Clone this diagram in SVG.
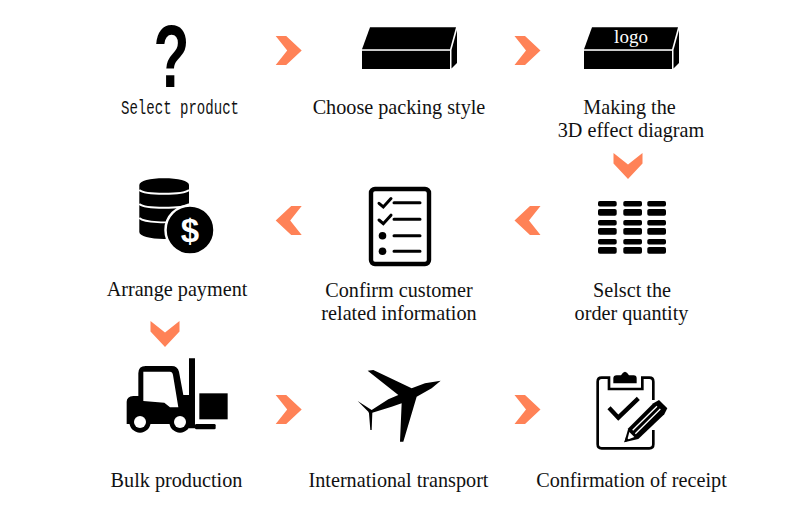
<svg xmlns="http://www.w3.org/2000/svg" width="790" height="508" viewBox="0 0 790 508">
<style>
.t{font-family:"Liberation Serif","Times New Roman",serif;font-size:20.2px;fill:#111;text-anchor:middle}
.k{fill:#000}
.chev{fill:#FF8257}
.ln{stroke:#000;stroke-width:3;stroke-linecap:round;fill:none}
.w{fill:#fff}
</style>
<defs>
<polygon id="chev" class="chev" points="-13,-14.5 -2.5,-14.5 13,0 -2.5,14.5 -13,14.5 -1.5,0"/>
<g id="box">
<polygon class="k" points="362,49.3 370,27.3 456,27.3 450,49.3"/>
<rect class="k" x="362" y="50.8" width="88" height="18.2"/>
<polygon class="k" points="451.5,68.5 457,63 457,30 451.5,50"/>
</g>
<g id="bars">
<rect class="k" x="0" y="0" width="18.7" height="5.6" rx="1.8"/>
<rect class="k" x="0" y="8" width="18.7" height="6.7" rx="1.8"/>
</g>
</defs>
<rect width="790" height="508" fill="#fff"/>
<g id="connectors">
<use href="#chev" transform="translate(288.7,50.5)"/>
<use href="#chev" transform="translate(527.5,50.5)"/>
<use href="#chev" transform="translate(628,166) rotate(90)"/>
<use href="#chev" transform="translate(527.5,220.5) rotate(180)"/>
<use href="#chev" transform="translate(288.7,220.5) rotate(180)"/>
<use href="#chev" transform="translate(165,334) rotate(90)"/>
<use href="#chev" transform="translate(288.7,409.5)"/>
<use href="#chev" transform="translate(527.5,409.5)"/>
</g>
<g id="node-select-product">
<text transform="translate(171.5,87) scale(0.66,1)" font-family="Liberation Sans,sans-serif" font-weight="700" font-size="89" text-anchor="middle" fill="#000">?</text>
<text x="121" y="114" font-family="Liberation Mono,monospace" font-size="20" textLength="118" lengthAdjust="spacingAndGlyphs" fill="#111">Select product</text>
</g>
<g id="node-packing-style">
<use href="#box"/>
<text class="t" x="399" y="114">Choose packing style</text>
</g>
<g id="node-3d-effect">
<use href="#box" transform="translate(222,0)"/>
<text x="631" y="43" font-family="Liberation Serif,serif" font-size="19" fill="#fff" text-anchor="middle">logo</text>
<text class="t" x="629.5" y="114">Making the</text>
<text class="t" x="631" y="137">3D effect diagram</text>
</g>
<g id="node-order-quantity">
<use href="#bars" transform="translate(598,201)"/>
<use href="#bars" transform="translate(623.3,201)"/>
<use href="#bars" transform="translate(647.3,201)"/>
<use href="#bars" transform="translate(598,220)"/>
<use href="#bars" transform="translate(623.3,220)"/>
<use href="#bars" transform="translate(647.3,220)"/>
<use href="#bars" transform="translate(598,239)"/>
<use href="#bars" transform="translate(623.3,239)"/>
<use href="#bars" transform="translate(647.3,239)"/>
<text class="t" x="632" y="297">Selsct the</text>
<text class="t" x="631.5" y="320">order quantity</text>
</g>
<g id="node-customer-info">
<rect x="371" y="189" width="58" height="75" rx="4" fill="none" stroke="#000" stroke-width="4.4"/>
<path class="ln" d="M394,202.7H420M394,219.3H420M394,235.7H420M394,251.3H420"/>
<path class="ln" d="M379,203.3L383.3,207L391,198.5M379,220L383.3,223.7L391,215.2"/>
<circle class="k" cx="382.5" cy="235.7" r="3.8"/>
<circle class="k" cx="382.5" cy="251.3" r="3.8"/>
<text class="t" x="399" y="297">Confirm customer</text>
<text class="t" x="399" y="320">related information</text>
</g>
<g id="node-payment">
<path class="k" d="M139.3,185V232C139.3,236 150,239 164,239S189,236 189,232V185C189,181 178,178.3 164,178.3S139.3,181 139.3,185Z"/>
<path d="M139.3,190C145,195 183,195 189,190M139.3,204C145,209 183,209 189,204M139.3,218C145,223 170,223 176,221" fill="none" stroke="#fff" stroke-width="1.8"/>
<circle class="k" cx="190" cy="230" r="24.5" stroke="#fff" stroke-width="2.5"/>
<text x="190" y="242" font-family="Liberation Sans,sans-serif" font-weight="700" font-size="33" fill="#fff" text-anchor="middle">$</text>
<text class="t" x="177" y="296">Arrange payment</text>
</g>
<g id="node-bulk-production">
<g transform="translate(115,350) scale(0.3333)">
<path class="k" d="M70,70Q70,48 92,48H170Q188,48 192,65L205,135H222V25H240V235H222V222H35V155Q35,140 55,138H70Z"/>
<path class="w" d="M85,65H165Q172,65 174,75L190,172H165L148,158L85,153Z"/>
<rect class="k" x="240" y="222" width="62" height="16" rx="4"/>
<rect class="k" x="253" y="130" width="85" height="78"/>
<circle class="k" cx="75" cy="216" r="32"/>
<circle class="k" cx="195" cy="216" r="32"/>
<circle class="w" cx="75" cy="216" r="18"/>
<circle class="w" cx="195" cy="216" r="18"/>
</g>
<text class="t" x="176.5" y="487">Bulk production</text>
</g>
<g id="node-transport">
<polygon class="k" transform="translate(345,360) scale(0.3333)" points="287,62 240,70 200,85 85,30 68,32 160,105 130,118 80,150 38,123 70,155 72,160 76,210 80,210 82,158 140,140 170,130 165,245 175,245 215,110 260,85"/>
<text class="t" x="398.5" y="487">International transport</text>
</g>
<g id="node-receipt">
<g transform="translate(585,365) scale(0.3333)">
<path d="M205,105V50Q205,38 193,38H172V72H72V38H50Q38,38 38,50V238Q38,250 50,250H193Q205,250 205,238V195" fill="none" stroke="#000" stroke-width="8"/>
<path class="k" d="M85,55V40Q85,31 95,31H108Q120,10 132,31H146Q155,31 155,40V55Z"/>
<path d="M72,128L100,158L160,100" fill="none" stroke="#000" stroke-width="13"/>
<path class="k" d="M118,232L130,190L205,115L222,105L247,130L238,148L160,222Z"/>
<path d="M143,196L216,124M151,206L226,132" fill="none" stroke="#fff" stroke-width="4"/>
<path d="M127,224L133,201L148,216Z" fill="#fff"/>
<path class="k" d="M118,232L123,216L133,226Z"/>
</g>
<text class="t" x="631.5" y="487">Confirmation of receipt</text>
</g>
</svg>
